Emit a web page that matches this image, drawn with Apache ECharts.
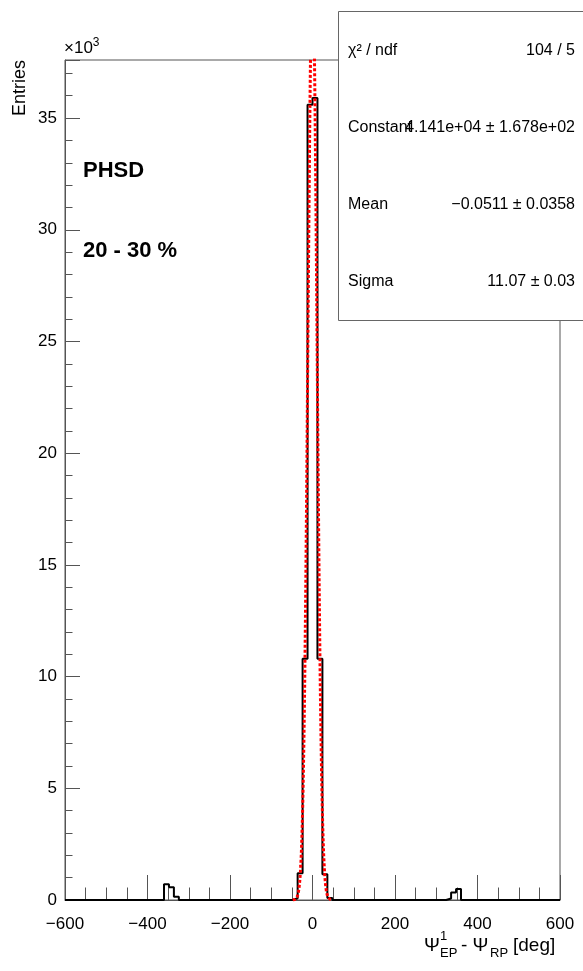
<!DOCTYPE html>
<html>
<head>
<meta charset="utf-8">
<script src="https://cdn.jsdelivr.net/npm/echarts@6/dist/echarts.min.js"></script>
<style>
  html, body { margin: 0; padding: 0; background: #fff; }
  #chart { width: 583px; height: 971px; }
</style>
</head>
<body>
<div id="chart"></div>
<script>
// Histogram of the event-plane angle resolution, 12 deg bins on [-600, 600]
const binWidth = 12;
const histMin = -600;
const histMax = 600;
// lower edges of the filled bins and their entries (all other bins are empty)
const binLowEdges = [-360, -348, -336, -48, -36, -24, -12, 0, 12, 24, 36, 324, 336, 348];
const binEntries  = [700, 570, 150, 80, 1200, 10800, 35600, 35900, 10800, 1150, 90, 70, 340, 490];

// Gaussian fit result shown in the statistics box
const fitConstant = 4.141e4;
const fitMean = -0.0511;
const fitSigma = 11.07;
const fitRange = [-48, 48];

const xTicks = [-600, -400, -200, 0, 200, 400, 600];

const statRows = [
  ['χ² / ndf', '104 / 5'],
  ['Constant', '4.141e+04 ± 1.678e+02'],
  ['Mean', '−0.0511 ± 0.0358'],
  ['Sigma', '11.07 ± 0.03']
];

const FONT = '"Liberation Sans", Arial, Helvetica, sans-serif';

// Build the step outline: one point per bin lower edge, plus the closing edge
const histPoints = [];
const nBins = Math.round((histMax - histMin) / binWidth);
for (let i = 0; i < nBins; i++) {
  const lo = histMin + i * binWidth;
  const k = binLowEdges.indexOf(lo);
  histPoints.push([lo, k >= 0 ? binEntries[k] : 0]);
}
histPoints.push([histMax, 0]);

// Fit curve evaluated from its parameters over the fit range
const fitPoints = [];
for (let x = fitRange[0]; x <= fitRange[1] + 1e-9; x += 0.25) {
  const z = (x - fitMean) / fitSigma;
  fitPoints.push([x, fitConstant * Math.exp(-0.5 * z * z)]);
}

const chart = echarts.init(document.getElementById('chart'), null, { renderer: 'canvas' });

const G = { left: 65, top: 60, right: 23, bottom: 71 };
const axisGrey = '#555';

// statistics box
const box = { x: 338.5, y: 11.5, h: 309 };
const statGraphics = [{
  type: 'rect',
  shape: { x: box.x, y: box.y, width: 260, height: box.h },
  style: { fill: '#fff', stroke: '#666', lineWidth: 1 },
  z: 100
}];
statRows.forEach((r, i) => {
  const y = box.y + (i + 0.5) * box.h / statRows.length;
  statGraphics.push({
    type: 'text', x: 348, y: y, z: 101,
    style: { text: r[0], font: '16px ' + FONT, fill: '#000', textVerticalAlign: 'middle' }
  });
  statGraphics.push({
    type: 'text', x: 575, y: y, z: 101,
    style: { text: r[1], font: '16px ' + FONT, fill: '#000', textAlign: 'right', textVerticalAlign: 'middle' }
  });
});

chart.setOption({
  animation: false,
  backgroundColor: '#fff',
  grid: { left: G.left, top: G.top, right: G.right, bottom: G.bottom, show: true, borderColor: axisGrey, borderWidth: 1, containLabel: false },
  xAxis: {
    type: 'value', min: histMin, max: histMax, interval: 200,
    axisLine: { show: true, onZero: false, lineStyle: { color: axisGrey, width: 1 } },
    axisTick: { show: true, inside: true, length: 25, lineStyle: { color: axisGrey } },
    minorTick: { show: true, splitNumber: 4, length: 12.5, lineStyle: { color: axisGrey } },
    splitLine: { show: false },
    axisLabel: {
      margin: 16, color: '#000', fontSize: 17, fontFamily: FONT,
      customValues: xTicks,
      formatter: v => (v < 0 ? '−' + Math.abs(v) : String(v))
    }
  },
  yAxis: {
    type: 'value', min: 0, max: 37600, interval: 5000,
    axisLine: { show: true, onZero: false, lineStyle: { color: axisGrey, width: 1 } },
    axisTick: { show: true, inside: true, length: 15, lineStyle: { color: axisGrey } },
    minorTick: { show: true, splitNumber: 5, length: 7.5, lineStyle: { color: axisGrey } },
    splitLine: { show: false },
    axisLabel: {
      margin: 8, color: '#000', fontSize: 17, fontFamily: FONT,
      showMaxLabel: false,
      formatter: v => (v % 5000 === 0 ? String(v / 1000) : '')
    }
  },
  series: [
    {
      type: 'line', data: histPoints, step: 'end', showSymbol: false, symbol: 'none',
      lineStyle: { color: '#000', width: 2 }, z: 2
    },
    {
      type: 'line', data: fitPoints, showSymbol: false, symbol: 'none', smooth: false,
      lineStyle: { color: '#ff0000', width: 3, type: [3, 2] }, z: 3
    }
  ],
  graphic: [
    // axis multiplier
    {
      type: 'text', x: 64, y: 48,
      style: {
        text: '×10{s|3}', font: '17px ' + FONT, fill: '#000', textVerticalAlign: 'middle',
        rich: { s: { fontSize: 12, fontFamily: FONT, padding: [0, 0, 10, 0] } }
      }
    },
    // y title
    {
      type: 'text', x: 20, y: 60, rotation: Math.PI / 2,
      style: { text: 'Entries', font: '18px ' + FONT, fill: '#000', textAlign: 'right', textVerticalAlign: 'middle' }
    },
    // labels inside the frame
    { type: 'text', x: 83, y: 171, style: { text: 'PHSD', font: 'bold 22px ' + FONT, fill: '#000', textVerticalAlign: 'middle' } },
    { type: 'text', x: 83, y: 251, style: { text: '20 - 30 %', font: 'bold 22px ' + FONT, fill: '#000', textVerticalAlign: 'middle' } },
    // x title pieces
    { type: 'text', x: 424, y: 946, style: { text: 'Ψ', font: '19px ' + FONT, fill: '#000', textVerticalAlign: 'middle' } },
    { type: 'text', x: 440, y: 936, style: { text: '1', font: '13px ' + FONT, fill: '#000', textVerticalAlign: 'middle' } },
    { type: 'text', x: 440, y: 953, style: { text: 'EP', font: '13px ' + FONT, fill: '#000', textVerticalAlign: 'middle' } },
    { type: 'text', x: 461, y: 946, style: { text: '- Ψ', font: '19px ' + FONT, fill: '#000', textVerticalAlign: 'middle' } },
    { type: 'text', x: 490, y: 953, style: { text: 'RP', font: '13px ' + FONT, fill: '#000', textVerticalAlign: 'middle' } },
    { type: 'text', x: 513, y: 946, style: { text: '[deg]', font: '19px ' + FONT, fill: '#000', textVerticalAlign: 'middle' } }
  ].concat(statGraphics)
});
</script>
</body>
</html>
